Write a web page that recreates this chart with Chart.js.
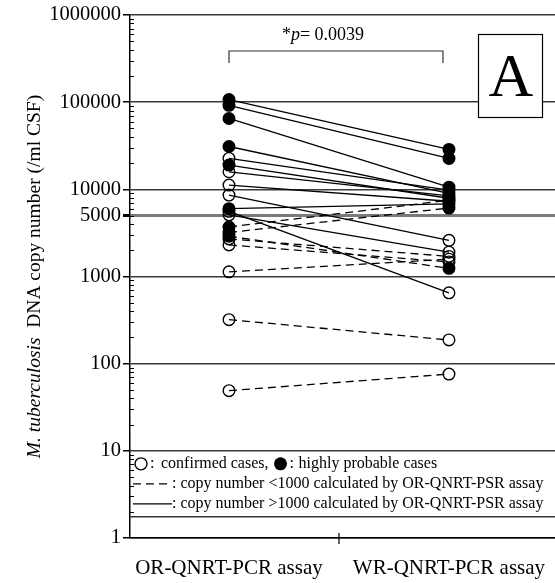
<!DOCTYPE html>
<html>
<head>
<meta charset="utf-8">
<script src="https://cdn.jsdelivr.net/npm/chart.js@4.4.0/dist/chart.umd.min.js"></script>
<style>
html, body { margin: 0; padding: 0; background: #fff; overflow: hidden; }
#wrap { width: 555px; height: 583px; }
</style>
</head>
<body>
<div id="wrap"><canvas id="chart" width="555" height="583"></canvas></div>
<script>
// paired copy numbers, one entry per patient
const categories = ['OR-QNRT-PCR assay', 'WR-QNRT-PCR assay'];
const orValues = [107000, 92000, 65000, 31000, 22600, 19000, 15900, 11200, 8600, 6000,
	5600, 5100, 3700, 3200, 2900, 2700, 2300, 1130, 320, 49];
const wrValues = [28700, 22600, 10600, 9000, 9800, 7900, 8400, 7300, 2600, 6800,
	650, 1900, 7500, 6100, 1240, 1700, 1470, 1580, 187, 76];
const caseType = ['probable', 'probable', 'probable', 'probable', 'confirmed', 'probable', 'confirmed', 'confirmed', 'confirmed', 'probable',
	'confirmed', 'confirmed', 'probable', 'probable', 'probable', 'confirmed', 'confirmed', 'confirmed', 'confirmed', 'confirmed'];
const lineType = ['solid', 'solid', 'solid', 'solid', 'solid', 'solid', 'solid', 'solid', 'solid', 'solid',
	'solid', 'solid', 'dashed', 'dashed', 'dashed', 'dashed', 'dashed', 'dashed', 'dashed', 'dashed'];
const yTickValues = [1, 10, 100, 1000, 5000, 10000, 100000, 1000000];
const pValueText = '0.0039';
const panelLabel = 'A';
const legendLines = [
	': copy number <1000 calculated by OR-QNRT-PSR assay',
	': copy number >1000 calculated by OR-QNRT-PSR assay'
];

const serif = '"Liberation Serif", "DejaVu Serif", serif';

const datasets = orValues.map((v, i) => {
	const filled = caseType[i] === 'probable';
	return {
		data: [{ x: 0, y: v }, { x: 1, y: wrValues[i] }],
		borderColor: '#000',
		borderWidth: 1.3,
		borderDash: lineType[i] === 'dashed' ? [8, 5] : [],
		pointRadius: 5.8,
		pointBorderWidth: 1.4,
		pointBorderColor: '#000',
		pointBackgroundColor: filled ? '#000' : 'rgba(0,0,0,0)',
		fill: false
	};
});

const decorations = {
	id: 'decorations',
	afterDraw(chart) {
		const { ctx, chartArea, scales } = chart;
		const xs = scales.x, ys = scales.y;
		ctx.save();

		// minor ticks inside y axis
		ctx.strokeStyle = '#000';
		ctx.lineWidth = 1;
		for (let d = 1; d < 1000000; d *= 10) {
			for (let k = 2; k <= 9; k++) {
				const py = Math.round(ys.getPixelForValue(k * d)) + 0.5;
				ctx.beginPath();
				ctx.moveTo(chartArea.left, py);
				ctx.lineTo(chartArea.left + 4, py);
				ctx.stroke();
			}
		}

		// middle tick on x axis
		const mx = xs.getPixelForValue(0.5);
		ctx.lineWidth = 1.2;
		ctx.beginPath();
		ctx.moveTo(mx, chartArea.bottom - 5);
		ctx.lineTo(mx, chartArea.bottom + 6);
		ctx.stroke();

		// y axis title, partly italic
		const italicPart = 'M. tuberculosis';
		const restPart = '  DNA copy number (/ml CSF)';
		ctx.font = 'italic 19.5px ' + serif;
		const w1 = ctx.measureText(italicPart).width;
		ctx.font = '19.5px ' + serif;
		const w2 = ctx.measureText(restPart).width;
		ctx.translate(35, (chartArea.top + chartArea.bottom) / 2);
		ctx.rotate(-Math.PI / 2);
		ctx.fillStyle = '#000';
		ctx.textBaseline = 'middle';
		ctx.textAlign = 'left';
		ctx.font = 'italic 19.5px ' + serif;
		ctx.fillText(italicPart, -(w1 + w2) / 2, 0);
		ctx.font = '19.5px ' + serif;
		ctx.fillText(restPart, -(w1 + w2) / 2 + w1, 0);
		ctx.setTransform(1, 0, 0, 1, 0, 0);

		// significance bracket
		const x0 = xs.getPixelForValue(0), x1 = xs.getPixelForValue(1) - 6;
		const by = chartArea.top + 36;
		ctx.lineWidth = 1.2;
		ctx.strokeStyle = '#333';
		ctx.beginPath();
		ctx.moveTo(x0, by + 12);
		ctx.lineTo(x0, by);
		ctx.lineTo(x1, by);
		ctx.lineTo(x1, by + 12);
		ctx.stroke();
		ctx.fillStyle = '#000';
		ctx.textBaseline = 'alphabetic';
		const pa = '*', pb = 'p', pc = '= ' + pValueText;
		ctx.font = '18px ' + serif;
		const wa = ctx.measureText(pa).width, wc = ctx.measureText(pc).width;
		ctx.font = 'italic 18px ' + serif;
		const wb = ctx.measureText(pb).width;
		let tx = (x0 + x1) / 2 - 13 - (wa + wb + wc) / 2;
		const ty = chartArea.top + 25;
		ctx.font = '18px ' + serif;
		ctx.fillText(pa, tx, ty); tx += wa;
		ctx.font = 'italic 18px ' + serif;
		ctx.fillText(pb, tx, ty); tx += wb;
		ctx.font = '18px ' + serif;
		ctx.fillText(pc, tx, ty);

		// panel letter box
		const bx = 478, bw = 64, bTop = chartArea.top + 19, bh = 83;
		ctx.fillStyle = '#fff';
		ctx.fillRect(bx, bTop, bw, bh);
		ctx.strokeStyle = '#000';
		ctx.lineWidth = 1.2;
		ctx.strokeRect(bx + 0.5, bTop + 0.5, bw, bh);
		ctx.fillStyle = '#000';
		ctx.font = '62px ' + serif;
		ctx.textAlign = 'center';
		ctx.textBaseline = 'alphabetic';
		ctx.fillText(panelLabel, bx + bw / 2 + 1, bTop + 62);

		// legend box
		const lx = chartArea.left;
		const ly10 = ys.getPixelForValue(10);
		ctx.strokeStyle = '#333';
		ctx.lineWidth = 1.5;
		ctx.beginPath();
		ctx.moveTo(lx, ly10 + 66);
		ctx.lineTo(chartArea.right, ly10 + 66);
		ctx.stroke();

		ctx.textAlign = 'left';
		ctx.textBaseline = 'middle';
		ctx.font = '16px ' + serif;
		ctx.lineWidth = 1.4;
		ctx.strokeStyle = '#000';
		ctx.fillStyle = '#000';
		// row 1
		const r1 = ly10 + 13;
		ctx.beginPath();
		ctx.arc(lx + 11, r1, 6, 0, Math.PI * 2);
		ctx.stroke();
		ctx.fillText(':', lx + 20, r1);
		const t1 = 'confirmed cases,';
		ctx.fillText(t1, lx + 31, r1);
		let cx = lx + 31 + ctx.measureText(t1).width + 12;
		ctx.beginPath();
		ctx.arc(cx, r1, 6.5, 0, Math.PI * 2);
		ctx.fill();
		ctx.fillText(':', cx + 9, r1);
		ctx.fillText('highly probable cases', cx + 18, r1);
		// row 2 dashed
		const r2 = ly10 + 33;
		ctx.setLineDash([8, 5]);
		ctx.beginPath();
		ctx.moveTo(lx + 3, r2);
		ctx.lineTo(lx + 41, r2);
		ctx.stroke();
		ctx.setLineDash([]);
		ctx.fillText(legendLines[0], lx + 42, r2);
		// row 3 solid
		const r3 = ly10 + 53;
		ctx.beginPath();
		ctx.moveTo(lx + 3, r3);
		ctx.lineTo(lx + 42, r3);
		ctx.stroke();
		ctx.fillText(legendLines[1], lx + 42, r3);

		ctx.restore();
	}
};

new Chart(document.getElementById('chart'), {
	type: 'line',
	data: { datasets },
	options: {
		responsive: false,
		animation: false,
		layout: { autoPadding: false, padding: { top: 15, left: 0, right: 0, bottom: 0 } },
		plugins: { legend: { display: false }, tooltip: { enabled: false } },
		scales: {
			x: {
				type: 'linear',
				min: -0.45,
				max: 1.482,
				afterBuildTicks: s => { s.ticks = [0, 0.5, 1].map(v => ({ value: v })); },
				afterFit: s => { s.height = 45; s.paddingLeft = 0; s.paddingRight = 0; },
				border: { display: true, color: '#000', width: 1.5 },
				grid: { drawOnChartArea: false, drawTicks: false },
				ticks: {
					color: '#000',
					font: { family: serif, size: 21 },
					padding: 18,
					maxRotation: 0,
					autoSkip: false,
					callback: v => v === 0 ? categories[0] : (v === 1 ? categories[1] : '')
				}
			},
			y: {
				type: 'logarithmic',
				min: 1,
				max: 1000000,
				afterBuildTicks: s => { s.ticks = yTickValues.map(v => ({ value: v })); },
				afterFit: s => { s.width = 130; },
				border: { display: true, color: '#000', width: 1.5 },
				grid: {
					color: c => (c.tick && c.tick.value === 5000) ? '#7a7a7a' : '#3a3a3a',
					lineWidth: c => (c.tick && c.tick.value === 5000) ? 3 : 1.5,
					tickLength: 7,
					tickColor: '#000'
				},
				ticks: {
					color: '#000',
					font: { family: serif, size: 20.5 },
					padding: 2,
					autoSkip: false,
					callback: v => String(v)
				}
			}
		}
	},
	plugins: [decorations]
});
</script>
</body>
</html>
